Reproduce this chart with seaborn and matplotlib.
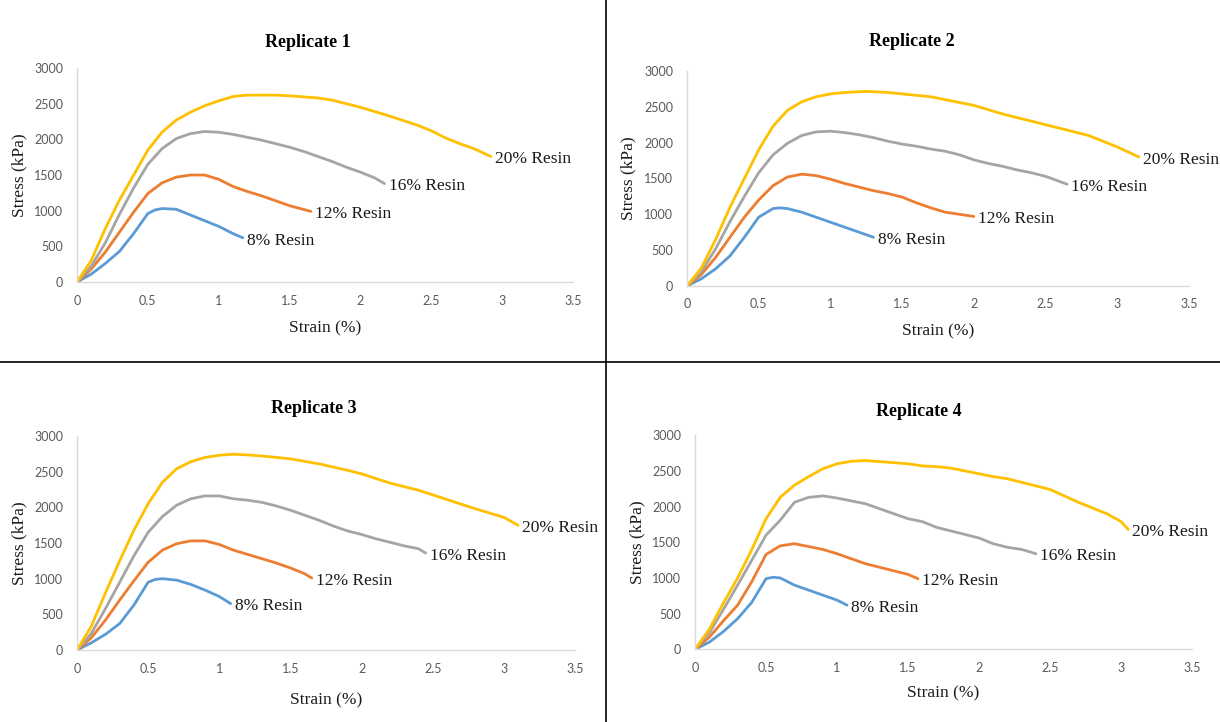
import numpy as np
import pandas as pd
import matplotlib
matplotlib.use("Agg")
import matplotlib.pyplot as plt
import seaborn as sns

# Stress-strain curves
resins = ["8% Resin", "12% Resin", "16% Resin", "20% Resin"]
colors = ["#5B9BD5", "#ED7D31", "#A5A5A5", "#FFC000"]
x_ticks = [0, 0.5, 1, 1.5, 2, 2.5, 3, 3.5]
x_tick_labels = ["0", "0.5", "1", "1.5", "2", "2.5", "3", "3.5"]
y_ticks = [0, 500, 1000, 1500, 2000, 2500, 3000]

# Replicate 1
r1_strain_8 = [0, 0.1, 0.2, 0.3, 0.4, 0.5, 0.55, 0.6, 0.7, 0.8, 0.9, 1.0, 1.1, 1.17]
r1_stress_8 = [0, 110, 260, 430, 680, 960, 1010, 1030, 1020, 940, 860, 780, 680, 620]
r1_strain_12 = [0, 0.1, 0.2, 0.3, 0.4, 0.5, 0.6, 0.7, 0.8, 0.9, 1.0, 1.1, 1.2, 1.3, 1.4, 1.5, 1.65]
r1_stress_12 = [0, 180, 420, 700, 980, 1240, 1390, 1470, 1500, 1500, 1440, 1340, 1270, 1210, 1140, 1070, 990]
r1_strain_16 = [0, 0.1, 0.2, 0.3, 0.4, 0.5, 0.6, 0.7, 0.8, 0.9, 1.0, 1.1, 1.2, 1.3, 1.4, 1.5,
                1.6, 1.7, 1.8, 1.9, 2.0, 2.1, 2.17]
r1_stress_16 = [0, 220, 550, 950, 1320, 1650, 1870, 2010, 2080, 2110, 2100, 2070, 2030, 1990, 1940, 1890,
                1830, 1760, 1690, 1610, 1540, 1460, 1380]
r1_strain_20 = [0, 0.1, 0.2, 0.3, 0.4, 0.5, 0.6, 0.7, 0.8, 0.9, 1.0, 1.1, 1.2, 1.4, 1.5, 1.7, 1.8,
                1.9, 2.0, 2.2, 2.4, 2.5, 2.6, 2.7, 2.8, 2.92]
r1_stress_20 = [0, 300, 750, 1150, 1500, 1850, 2100, 2270, 2380, 2470, 2540, 2600, 2620, 2620, 2610, 2580, 2550,
                2500, 2450, 2330, 2200, 2120, 2020, 1940, 1870, 1760]

# Replicate 2
r2_strain_8 = [0, 0.1, 0.2, 0.3, 0.4, 0.5, 0.6, 0.65, 0.7, 0.8, 0.9, 1.0, 1.1, 1.2, 1.3]
r2_stress_8 = [0, 100, 240, 420, 680, 960, 1080, 1090, 1080, 1030, 960, 890, 820, 750, 680]
r2_strain_12 = [0, 0.1, 0.2, 0.3, 0.4, 0.5, 0.6, 0.7, 0.8, 0.9, 1.0, 1.1, 1.2, 1.3, 1.4, 1.5,
                1.6, 1.7, 1.8, 2.0]
r2_stress_12 = [0, 160, 400, 680, 960, 1200, 1400, 1520, 1560, 1540, 1490, 1430, 1380, 1330, 1290, 1240,
                1160, 1090, 1030, 970]
r2_strain_16 = [0, 0.1, 0.2, 0.3, 0.4, 0.5, 0.6, 0.7, 0.8, 0.9, 1.0, 1.1, 1.2, 1.3, 1.4, 1.5, 1.6,
                1.7, 1.8, 1.9, 2.0, 2.1, 2.2, 2.3, 2.4, 2.5, 2.65]
r2_stress_16 = [0, 200, 520, 900, 1250, 1580, 1830, 1990, 2100, 2150, 2160, 2140, 2110, 2070, 2020, 1980, 1950,
                1910, 1880, 1830, 1760, 1710, 1670, 1620, 1580, 1530, 1420]
r2_strain_20 = [0, 0.1, 0.2, 0.3, 0.4, 0.5, 0.6, 0.7, 0.8, 0.9, 1.0, 1.1, 1.25, 1.4, 1.5, 1.7, 1.8,
                2.0, 2.2, 2.4, 2.6, 2.8, 3.0, 3.15]
r2_stress_20 = [0, 250, 650, 1100, 1500, 1900, 2230, 2450, 2570, 2640, 2680, 2700, 2715, 2700, 2680, 2640, 2600,
                2520, 2400, 2300, 2200, 2100, 1940, 1800]

# Replicate 3
r3_strain_8 = [0, 0.1, 0.2, 0.3, 0.4, 0.5, 0.55, 0.6, 0.7, 0.8, 0.9, 1.0, 1.08]
r3_stress_8 = [0, 100, 220, 370, 630, 950, 990, 1000, 980, 920, 840, 750, 650]
r3_strain_12 = [0, 0.1, 0.2, 0.3, 0.4, 0.5, 0.6, 0.7, 0.8, 0.9, 1.0, 1.1, 1.2, 1.3, 1.4, 1.5, 1.6, 1.65]
r3_stress_12 = [0, 170, 420, 700, 970, 1230, 1400, 1490, 1530, 1530, 1480, 1400, 1340, 1280, 1220, 1150, 1070, 1010]
r3_strain_16 = [0, 0.1, 0.2, 0.3, 0.4, 0.5, 0.6, 0.7, 0.8, 0.9, 1.0, 1.1, 1.2, 1.3, 1.4, 1.5, 1.6,
                1.7, 1.8, 1.9, 2.0, 2.1, 2.2, 2.3, 2.4, 2.45]
r3_stress_16 = [0, 230, 580, 950, 1320, 1650, 1870, 2030, 2120, 2160, 2160, 2120, 2100, 2070, 2020, 1960, 1890,
                1820, 1740, 1670, 1620, 1560, 1510, 1460, 1420, 1360]
r3_strain_20 = [0, 0.1, 0.2, 0.3, 0.4, 0.5, 0.6, 0.7, 0.8, 0.9, 1.0, 1.1, 1.2, 1.3, 1.5, 1.7, 1.9,
                2.0, 2.2, 2.4, 2.6, 2.8, 3.0, 3.1]
r3_stress_20 = [0, 330, 800, 1250, 1680, 2050, 2350, 2540, 2640, 2700, 2730, 2745, 2735, 2720, 2680, 2610, 2520,
                2470, 2340, 2240, 2110, 1980, 1860, 1750]

# Replicate 4
r4_strain_8 = [0, 0.1, 0.2, 0.3, 0.4, 0.5, 0.55, 0.6, 0.7, 0.8, 0.9, 1.0, 1.07]
r4_stress_8 = [0, 100, 250, 430, 660, 990, 1010, 1000, 900, 830, 760, 690, 620]
r4_strain_12 = [0, 0.1, 0.2, 0.3, 0.4, 0.5, 0.6, 0.7, 0.8, 0.9, 1.0, 1.1, 1.2, 1.3, 1.4, 1.5, 1.57]
r4_stress_12 = [0, 170, 400, 620, 950, 1330, 1450, 1480, 1440, 1400, 1340, 1270, 1200, 1150, 1100, 1050, 990]
r4_strain_16 = [0, 0.1, 0.2, 0.3, 0.4, 0.5, 0.6, 0.7, 0.8, 0.9, 1.0, 1.1, 1.2, 1.3, 1.4, 1.5, 1.6,
                1.7, 1.8, 1.9, 2.0, 2.1, 2.2, 2.3, 2.4]
r4_stress_16 = [0, 230, 560, 900, 1250, 1600, 1810, 2060, 2130, 2150, 2120, 2080, 2040, 1970, 1900, 1830, 1790,
                1710, 1660, 1610, 1560, 1480, 1430, 1400, 1340]
r4_strain_20 = [0, 0.1, 0.2, 0.3, 0.4, 0.5, 0.6, 0.7, 0.8, 0.9, 1.0, 1.1, 1.2, 1.3, 1.4, 1.5, 1.6,
                1.7, 1.8, 1.9, 2.0, 2.1, 2.2, 2.3, 2.4, 2.5, 2.6, 2.7, 2.8, 2.9, 3.0, 3.05]
r4_stress_20 = [0, 280, 650, 1000, 1400, 1830, 2130, 2300, 2420, 2530, 2600, 2635, 2645, 2630, 2615, 2600, 2570,
                2560, 2540, 2500, 2460, 2420, 2390, 2340, 2290, 2240, 2150, 2060, 1980, 1900, 1790, 1680]

replicates = [
    ("Replicate 1", [(r1_strain_8, r1_stress_8), (r1_strain_12, r1_stress_12),
                     (r1_strain_16, r1_stress_16), (r1_strain_20, r1_stress_20)]),
    ("Replicate 2", [(r2_strain_8, r2_stress_8), (r2_strain_12, r2_stress_12),
                     (r2_strain_16, r2_stress_16), (r2_strain_20, r2_stress_20)]),
    ("Replicate 3", [(r3_strain_8, r3_stress_8), (r3_strain_12, r3_stress_12),
                     (r3_strain_16, r3_stress_16), (r3_strain_20, r3_stress_20)]),
    ("Replicate 4", [(r4_strain_8, r4_stress_8), (r4_strain_12, r4_stress_12),
                     (r4_strain_16, r4_stress_16), (r4_strain_20, r4_stress_20)]),
]

# panel boxes [left, bottom, width, height] and title positions in figure coords
boxes = [[0.0631, 0.6094, 0.4066, 0.2964],
         [0.5631, 0.6039, 0.4115, 0.2978],
         [0.0631, 0.0997, 0.4082, 0.2964],
         [0.5697, 0.1006, 0.4074, 0.2966]]
title_pos = [(0.2525, 0.9418), (0.7475, 0.9423), (0.2574, 0.4339), (0.7533, 0.4307)]
xlabel_off = [-0.215, -0.213, -0.234, -0.206]

sns.set_theme(style="white")
serif = "Liberation Serif"
tick_font = "Lato"

fig = plt.figure(figsize=(12.2, 7.22), dpi=100)

for i, (title, curves) in enumerate(replicates):
    ax = fig.add_axes(boxes[i])
    frames = []
    for resin, (xs, ys) in zip(resins, curves):
        frames.append(pd.DataFrame({"strain": xs, "stress": ys, "resin": resin}))
    df = pd.concat(frames, ignore_index=True)
    sns.lineplot(data=df, x="strain", y="stress", hue="resin", palette=colors,
                 hue_order=resins, sort=False, estimator=None, legend=False,
                 linewidth=2.0, ax=ax)

    # end-of-line labels
    for resin, (xs, ys) in zip(resins, curves):
        ax.annotate(resin, xy=(xs[-1], ys[-1]), xytext=(3, -2), textcoords="offset points",
                    ha="left", va="center", fontsize=12.5, family=serif, color="#1a1a1a")

    ax.set_xlim(0, 3.5)
    ax.set_ylim(0, 3000)
    ax.set_xticks(x_ticks)
    ax.set_xticklabels(x_tick_labels)
    ax.set_yticks(y_ticks)
    ax.tick_params(axis="both", length=0, labelsize=9, labelcolor="#595959")
    ax.tick_params(axis="y", pad=10)
    ax.tick_params(axis="x", pad=9)
    for lab in ax.get_xticklabels() + ax.get_yticklabels():
        lab.set_family(tick_font)

    ax.set_xlabel("Strain (%)", fontsize=12.5, family=serif, color="#1a1a1a")
    ax.set_ylabel("Stress (kPa)", fontsize=12.5, family=serif, color="#1a1a1a")
    ax.xaxis.set_label_coords(0.5, xlabel_off[i])
    ax.xaxis.label.set_va("center")
    ax.yaxis.set_label_coords(-0.116, 0.5)
    ax.yaxis.label.set_va("center")

    for side in ["top", "right"]:
        ax.spines[side].set_visible(False)
    for side in ["left", "bottom"]:
        ax.spines[side].set_color("#D9D9D9")
        ax.spines[side].set_linewidth(1.0)
    ax.grid(False)

    fig.text(title_pos[i][0], title_pos[i][1], title, ha="center", va="center",
             fontsize=13, fontweight="bold", family=serif, color="black")

# dividing lines between the four panels
fig.add_artist(plt.Line2D([606 / 1220, 606 / 1220], [0, 1], color="black", linewidth=1.2))
fig.add_artist(plt.Line2D([0, 1], [1 - 362 / 722, 1 - 362 / 722], color="black", linewidth=1.2))

fig.savefig("out.png", dpi=100, facecolor="white")
